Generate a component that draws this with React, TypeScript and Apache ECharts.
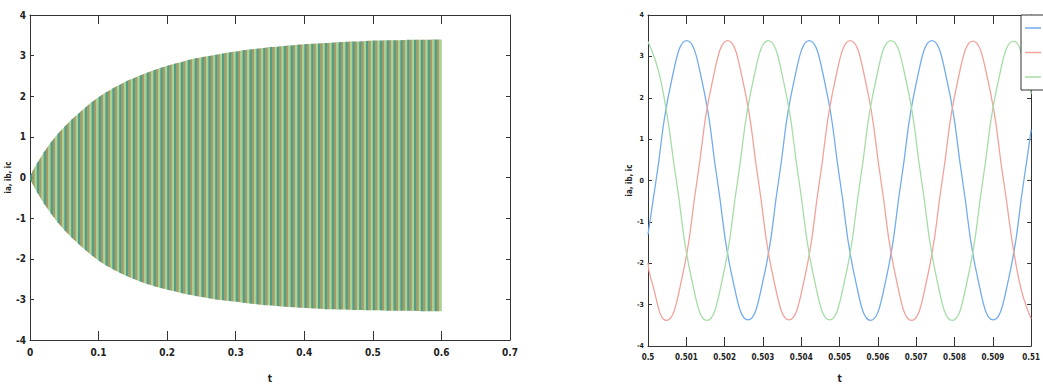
import React, { useEffect, useRef } from "react";
import * as echarts from "echarts";

// ---- Left panel: envelope of the three phase currents ----
const envTimes = [
  0, 0.01, 0.02, 0.03, 0.04, 0.05, 0.06, 0.07, 0.08, 0.09, 0.1, 0.11, 0.12, 0.13, 0.14, 0.15,
  0.16, 0.17, 0.18, 0.19, 0.2, 0.21, 0.22, 0.23, 0.24, 0.25, 0.26, 0.27, 0.28, 0.29, 0.3,
  0.31, 0.32, 0.33, 0.34, 0.35, 0.36, 0.37, 0.38, 0.39, 0.4, 0.41, 0.42, 0.43, 0.44, 0.45,
  0.46, 0.47, 0.48, 0.49, 0.5, 0.51, 0.52, 0.53, 0.54, 0.55, 0.56, 0.57, 0.58, 0.59, 0.6,
];
const envUpper = [
  0.05, 0.35, 0.62, 0.86, 1.07, 1.25, 1.42, 1.57, 1.72, 1.86, 1.98, 2.09, 2.19, 2.28, 2.37, 2.44,
  2.51, 2.58, 2.64, 2.7, 2.75, 2.8, 2.84, 2.89, 2.93, 2.96, 2.99, 3.02, 3.05, 3.08, 3.1,
  3.13, 3.15, 3.17, 3.19, 3.21, 3.22, 3.24, 3.25, 3.27, 3.28, 3.29, 3.3, 3.31, 3.32, 3.33,
  3.34, 3.35, 3.35, 3.36, 3.37, 3.37, 3.38, 3.38, 3.38, 3.39, 3.39, 3.39, 3.39, 3.4, 3.4,
];
const envLower = [
  -0.05, -0.36, -0.64, -0.88, -1.1, -1.3, -1.47, -1.63, -1.78, -1.92, -2.05, -2.16, -2.25, -2.34, -2.42, -2.49,
  -2.56, -2.62, -2.67, -2.72, -2.76, -2.8, -2.84, -2.88, -2.91, -2.94, -2.97, -3.0, -3.02, -3.04, -3.06,
  -3.08, -3.1, -3.12, -3.14, -3.15, -3.16, -3.18, -3.19, -3.2, -3.21, -3.22, -3.23, -3.24, -3.24, -3.25,
  -3.25, -3.26, -3.26, -3.27, -3.27, -3.27, -3.28, -3.28, -3.28, -3.28, -3.28, -3.29, -3.29, -3.29, -3.29,
];
const phaseFillColors = ["#4a977f", "#9f965f", "#a6d08f"];

// ---- Right panel: zoomed phase currents, t = 0.5 .. 0.51 s ----
const blueT = [0.5, 0.50021, 0.50061, 0.50101, 0.50141, 0.50181, 0.50221, 0.50261, 0.50301, 0.50341, 0.50381, 0.50421, 0.50461, 0.50501, 0.50541, 0.50581, 0.50621, 0.50661, 0.50701, 0.50741, 0.50781, 0.50821, 0.50861, 0.50901, 0.50941, 0.50981, 0.51];
const blueV = [-1.3, 0, 2.39, 3.38, 2.4, 0, -2.39, -3.37, -2.39, 0, 2.4, 3.38, 2.39, 0, -2.39, -3.38, -2.4, 0, 2.39, 3.38, 2.39, 0, -2.38, -3.37, -2.39, 0, 1.23];
const redT = [0.5, 0.50008, 0.50048, 0.50088, 0.50128, 0.50168, 0.50208, 0.50248, 0.50288, 0.50328, 0.50368, 0.50408, 0.50448, 0.50488, 0.50528, 0.50568, 0.50608, 0.50648, 0.50688, 0.50728, 0.50768, 0.50808, 0.50848, 0.50888, 0.50928, 0.50968, 0.51];
const redV = [-1.99, -2.39, -3.38, -2.39, 0, 2.39, 3.38, 2.39, 0, -2.39, -3.37, -2.39, 0, 2.4, 3.38, 2.39, 0, -2.39, -3.38, -2.39, 0, 2.39, 3.37, 2.39, 0, -2.39, -3.34];
const greenT = [0.5, 0.50034, 0.50074, 0.50114, 0.50154, 0.50194, 0.50234, 0.50274, 0.50314, 0.50354, 0.50394, 0.50434, 0.50474, 0.50514, 0.50554, 0.50594, 0.50634, 0.50674, 0.50714, 0.50754, 0.50794, 0.50834, 0.50874, 0.50914, 0.50954, 0.50994, 0.51];
const greenV = [3.36, 2.39, 0, -2.39, -3.38, -2.39, 0, 2.39, 3.38, 2.39, 0, -2.39, -3.37, -2.39, 0, 2.39, 3.38, 2.4, 0, -2.39, -3.38, -2.39, 0, 2.39, 3.37, 2.39, 2.09];

const phaseNames = ["ia", "ib", "ic"];
const lineColors = ["#72acec", "#f2a19b", "#a6dca6"];

const FONT = "DejaVu Sans Condensed";

function zip(a: number[], b: number[]) {
  return a.map((v, i) => [v, b[i]]);
}

export default function App() {
  const ref = useRef<HTMLDivElement>(null);
  useEffect(() => {
    if (!ref.current) return;
    const chart = echarts.init(ref.current, undefined, { renderer: "svg" });
    const axisLine = { show: true, onZero: false, lineStyle: { color: "#333", width: 1 } };
    const baseX = (grid: number, min: number, max: number, interval: number, top: boolean, labelSize: number, fmt?: (v: number) => string, nameGap?: number) => ({
      type: "value",
      gridIndex: grid,
      position: top ? "top" : "bottom",
      min,
      max,
      interval,
      axisLine,
      axisTick: { show: true, inside: true, length: 9, lineStyle: { color: "#333" } },
      axisLabel: top
        ? { show: false }
        : { show: true, color: "#222", fontFamily: FONT, fontWeight: "bold", fontSize: labelSize, margin: 7, formatter: fmt },
      splitLine: { show: false },
      name: top ? "" : "t",
      nameLocation: "middle",
      nameGap: nameGap,
      nameTextStyle: { color: "#222", fontFamily: FONT, fontWeight: "bold", fontSize: 10 },
    });
    const baseY = (grid: number, right: boolean, labelSize: number, nameGap: number) => ({
      type: "value",
      gridIndex: grid,
      position: right ? "right" : "left",
      min: -4,
      max: 4,
      interval: 1,
      axisLine,
      axisTick: { show: true, inside: true, length: 4, lineStyle: { color: "#333" } },
      axisLabel: right
        ? { show: false }
        : { show: true, color: "#222", fontFamily: FONT, fontWeight: "bold", fontSize: labelSize, margin: 4 },
      splitLine: { show: false },
      name: right ? "" : "ia, ib, ic",
      nameLocation: "middle",
      nameRotate: 90,
      nameGap,
      nameTextStyle: { color: "#222", fontFamily: FONT, fontWeight: "bold", fontSize: 8 },
    });

    const envData = envTimes.map((t, i) => [t, envUpper[i], envLower[i]]);
    const rightSeries = [zip(blueT, blueV), zip(redT, redV), zip(greenT, greenV)];
    const n = envData.length;

    chart.setOption({
      animation: false,
      backgroundColor: "#ffffff",
      grid: [
        { left: 30, top: 15, width: 480, height: 332 },
        { left: 648, top: 15, width: 397, height: 334 },
      ],
      xAxis: [
        baseX(0, 0, 0.7, 0.1, false, 10, (v: number) => String(Number(v.toFixed(1))), 33),
        baseX(0, 0, 0.7, 0.1, true, 10),
        baseX(1, 0.5, 0.51, 0.001, false, 8, (v: number) => String(Number(v.toFixed(3))), 27),
        baseX(1, 0.5, 0.51, 0.001, true, 8),
      ],
      yAxis: [baseY(0, false, 10, 13), baseY(0, true, 10, 13), baseY(1, false, 7, 11), baseY(1, true, 7, 11)],
      legend: {
        data: phaseNames.map((nm) => ({ name: nm, icon: "rect" })),
        orient: "vertical",
        left: 1021,
        top: 15,
        padding: [6, 8, 6, 4],
        itemWidth: 16,
        itemHeight: 1.5,
        itemGap: 10.5,
        borderColor: "#333",
        borderWidth: 1,
        backgroundColor: "#fff",
        textStyle: { fontFamily: FONT, fontSize: 9, color: "#222", lineHeight: 14 },
      },
      series: [
        {
          type: "custom",
          name: "ia, ib, ic (0–0.6 s)",
          xAxisIndex: 0,
          yAxisIndex: 0,
          clip: true,
          encode: { x: 0, y: [1, 2] },
          data: envData,
          renderItem: (params: any, api: any) => {
            const idx = params.dataIndexInside;
            if (idx >= n - 1) return { type: "group", children: [] };
            const t0 = api.value(0, idx);
            const t1 = api.value(0, idx + 1);
            const h0 = api.value(1, idx);
            const h1 = api.value(1, idx + 1);
            const l0 = api.value(2, idx);
            const l1 = api.value(2, idx + 1);
            const children: any[] = [];
            for (let i = 0; i < 3; i++) {
              const fa = i / 3;
              const fb = (i + 1) / 3;
              const ta = t0 + (t1 - t0) * fa;
              const tb = t0 + (t1 - t0) * fb;
              const ha = h0 + (h1 - h0) * fa;
              const hb = h0 + (h1 - h0) * fb;
              const la = l0 + (l1 - l0) * fa;
              const lb = l0 + (l1 - l0) * fb;
              const p1 = api.coord([ta, ha]);
              const p2 = api.coord([tb, hb]);
              const p3 = api.coord([tb, lb]);
              const p4 = api.coord([ta, la]);
              children.push({
                type: "polygon",
                shape: { points: [[p1[0], p1[1]], [p2[0] + 0.4, p2[1]], [p3[0] + 0.4, p3[1]], [p4[0], p4[1]]] },
                style: { fill: phaseFillColors[i], opacity: 0.95 },
              });
            }
            return { type: "group", children };
          },
        },
        ...rightSeries.map((d, i) => ({
          type: "line",
          name: phaseNames[i],
          xAxisIndex: 2,
          yAxisIndex: 2,
          data: d,
          smooth: 0.5,
          symbol: "none",
          lineStyle: { color: lineColors[i], width: 1.3 },
          itemStyle: { color: lineColors[i] },
        })),
      ],
    });
    return () => chart.dispose();
  }, []);
  return (
    <div
      ref={ref}
      style={{ position: "fixed", left: 0, top: 0, width: 1043, height: 388, background: "#fff" }}
    />
  );
}
